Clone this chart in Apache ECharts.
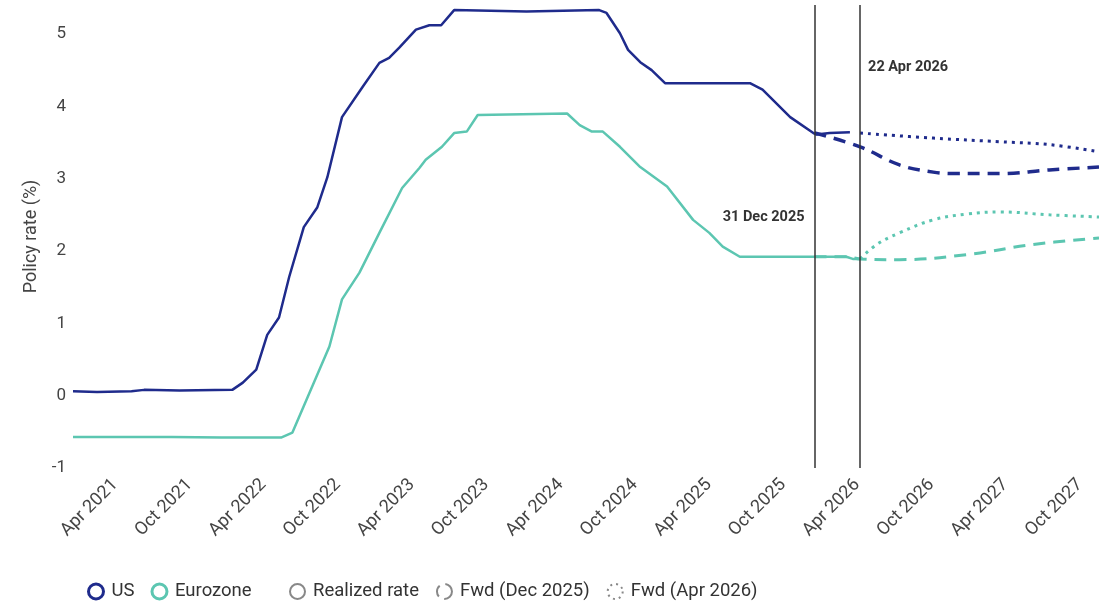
<!DOCTYPE html>
<html>
<head>
<meta charset="utf-8">
<title>Policy rate</title>
<script src="https://cdn.jsdelivr.net/npm/echarts@6/dist/echarts.min.js"></script>
<style>
  html, body { margin: 0; padding: 0; background: #ffffff; }
  #chart { width: 1099px; height: 603px; }
</style>
</head>
<body>
<div id="chart"></div>
<script>
  // realized policy rates
  var usRealized = [
    ['2021-01-01', 0.06], ['2021-03-01', 0.05], ['2021-05-25', 0.06], ['2021-06-25', 0.08],
    ['2021-09-20', 0.07], ['2022-01-28', 0.08], ['2022-02-23', 0.18], ['2022-03-28', 0.36],
    ['2022-04-24', 0.84], ['2022-05-23', 1.08], ['2022-06-17', 1.64], ['2022-07-23', 2.33],
    ['2022-08-25', 2.60], ['2022-09-19', 3.02], ['2022-10-25', 3.85], ['2022-12-15', 4.27],
    ['2023-01-25', 4.60], ['2023-02-18', 4.67], ['2023-03-15', 4.81], ['2023-04-25', 5.06],
    ['2023-05-28', 5.12], ['2023-06-26', 5.12], ['2023-07-28', 5.33], ['2024-01-22', 5.31],
    ['2024-07-19', 5.33], ['2024-08-06', 5.29], ['2024-09-08', 5.01], ['2024-09-28', 4.78],
    ['2024-10-28', 4.61], ['2024-11-25', 4.50], ['2024-12-28', 4.32], ['2025-05-03', 4.32],
    ['2025-07-25', 4.32], ['2025-08-25', 4.23], ['2025-11-01', 3.85], ['2025-12-28', 3.63],
    ['2026-01-05', 3.61], ['2026-02-06', 3.63], ['2026-03-28', 3.64]
  ];
  var ezRealized = [
    ['2021-01-01', -0.57], ['2021-09-01', -0.57], ['2022-01-01', -0.58], ['2022-05-28', -0.58],
    ['2022-06-25', -0.51], ['2022-09-24', 0.68], ['2022-10-25', 1.33], ['2022-12-07', 1.70],
    ['2023-01-25', 2.25], ['2023-03-22', 2.87], ['2023-05-04', 3.15], ['2023-05-19', 3.26],
    ['2023-06-28', 3.44], ['2023-07-28', 3.63], ['2023-08-28', 3.65], ['2023-09-24', 3.88],
    ['2024-05-01', 3.90], ['2024-06-01', 3.74], ['2024-07-01', 3.65], ['2024-07-28', 3.65],
    ['2024-09-08', 3.44], ['2024-10-28', 3.16], ['2025-01-02', 2.89], ['2025-03-07', 2.43],
    ['2025-04-16', 2.25], ['2025-05-19', 2.06], ['2025-06-30', 1.92], ['2026-03-19', 1.92],
    ['2026-04-04', 1.89], ['2026-04-22', 1.89]
  ];

  // market forwards
  var usFwdDec = [
    ['2025-12-31', 3.63], ['2026-04-22', 3.44], ['2026-07-28', 3.19], ['2026-10-19', 3.09],
    ['2026-12-16', 3.07], ['2027-04-01', 3.07], ['2027-08-01', 3.12], ['2027-12-01', 3.16]
  ];
  var usFwdApr = [
    ['2026-04-22', 3.63], ['2026-10-19', 3.56], ['2027-04-01', 3.51], ['2027-08-01', 3.47],
    ['2027-12-01', 3.37]
  ];
  var ezFwdDec = [
    ['2025-12-31', 1.92], ['2026-03-19', 1.92], ['2026-04-22', 1.89], ['2026-07-28', 1.88],
    ['2027-01-10', 1.95], ['2027-06-22', 2.09], ['2027-12-01', 2.18]
  ];
  var ezFwdApr = [
    ['2026-04-22', 1.89], ['2026-06-02', 2.09], ['2026-07-28', 2.25], ['2026-10-19', 2.43],
    ['2027-01-10', 2.51], ['2027-04-01', 2.54], ['2027-08-01', 2.50], ['2027-12-01', 2.47]
  ];

  var tickLabels = ['Apr 2021', 'Oct 2021', 'Apr 2022', 'Oct 2022', 'Apr 2023', 'Oct 2023',
    'Apr 2024', 'Oct 2024', 'Apr 2025', 'Oct 2025', 'Apr 2026', 'Oct 2026', 'Apr 2027', 'Oct 2027'];
  var markerDates = ['2025-12-31', '2026-04-22'];
  var markerLabels = ['31 Dec 2025', '22 Apr 2026'];
  var xRange = ['2021-01-01', '2027-12-01'];

  var US_COLOR = '#1f2b8c';
  var EZ_COLOR = '#5cc6b1';
  var MONTHS = ['Jan', 'Feb', 'Mar', 'Apr', 'May', 'Jun', 'Jul', 'Aug', 'Sep', 'Oct', 'Nov', 'Dec'];

  function t (s) {
    var p = s.split('-');
    return new Date(+p[0], +p[1] - 1, +p[2]).getTime();
  }
  // ticks sit mid-month, like the source chart
  function labelToTime (s) {
    var p = s.split(' ');
    return new Date(+p[1], MONTHS.indexOf(p[0]), 15).getTime();
  }
  function toPoints (arr) {
    return arr.map(function (d) { return [t(d[0]), d[1]]; });
  }
  function legendOnly (name) {
    return { name: name, type: 'line', data: [] };
  }
  function ring (color, width, type) {
    return { color: 'rgba(0,0,0,0)', borderColor: color, borderWidth: width, borderType: type || 'solid' };
  }

  var chart = echarts.init(document.getElementById('chart'));

  var legendText = { fontSize: 18.5, color: '#333', padding: [0, 0, 0, 3] };

  var option = {
    animation: false,
    textStyle: { fontFamily: 'Roboto, "Noto Sans", sans-serif' },
    grid: { left: 73, right: 0, top: 5, bottom: 135 },
    legend: [
      {
        left: 87, top: 582, padding: 0, itemWidth: 15, itemHeight: 15, itemGap: 16,
        textStyle: legendText,
        data: [
          { name: 'US', icon: 'circle', itemStyle: ring(US_COLOR, 3) },
          { name: 'Eurozone', icon: 'circle', itemStyle: ring(EZ_COLOR, 3) }
        ]
      },
      {
        left: 289, top: 582, padding: 0, itemWidth: 15, itemHeight: 15, itemGap: 17,
        textStyle: legendText,
        data: [
          { name: 'Realized rate', icon: 'circle', itemStyle: ring('#888', 2) },
          { name: 'Fwd (Dec 2025)', icon: 'circle', itemStyle: ring('#888', 2, [12, 6]) },
          { name: 'Fwd (Apr 2026)', icon: 'circle', itemStyle: ring('#888', 2, [2, 4]) }
        ]
      }
    ],
    xAxis: {
      type: 'value',
      min: t(xRange[0]),
      max: t(xRange[1]),
      axisLine: { show: false },
      axisTick: { show: false },
      splitLine: { show: false },
      axisLabel: {
        customValues: tickLabels.map(labelToTime),
        rotate: 45,
        margin: 14,
        fontSize: 18,
        color: '#444',
        formatter: function (val) {
          var d = new Date(val);
          return MONTHS[d.getMonth()] + ' ' + d.getFullYear();
        }
      }
    },
    yAxis: {
      type: 'value',
      min: -1,
      max: 5.4,
      interval: 1,
      name: 'Policy rate (%)',
      nameLocation: 'middle',
      nameGap: 33,
      nameTextStyle: { fontSize: 18, color: '#444' },
      axisLine: { show: false },
      axisTick: { show: false },
      splitLine: { show: false },
      axisLabel: { fontSize: 17, color: '#444', margin: 7, showMaxLabel: false, padding: [6, 0, 0, 0] }
    },
    series: [
      {
        name: 'US realized', type: 'line', data: toPoints(usRealized), showSymbol: false,
        lineStyle: { color: US_COLOR, width: 2.5 },
        markLine: {
          silent: true, symbol: 'none',
          lineStyle: { color: '#333', width: 1.5, type: 'solid' },
          label: { show: false },
          data: markerDates.map(function (d) { return { xAxis: t(d) }; })
        },
        markPoint: {
          symbol: 'circle', symbolSize: 0, silent: true,
          label: { show: true, fontSize: 14.5, fontWeight: 'bold', color: '#333' },
          data: [
            { coord: [t(markerDates[0]), 2.47], label: { formatter: markerLabels[0], position: 'left', distance: 10 } },
            { coord: [t(markerDates[1]), 4.54], label: { formatter: markerLabels[1], position: 'right', distance: 8 } }
          ]
        }
      },
      {
        name: 'Eurozone realized', type: 'line', data: toPoints(ezRealized), showSymbol: false,
        lineStyle: { color: EZ_COLOR, width: 2.5 }
      },
      {
        name: 'US fwd Dec', type: 'line', data: toPoints(usFwdDec), showSymbol: false, smooth: 0.4,
        lineStyle: { color: US_COLOR, width: 3.5, type: [12, 8] }
      },
      {
        name: 'US fwd Apr', type: 'line', data: toPoints(usFwdApr), showSymbol: false, smooth: 0.4,
        lineStyle: { color: US_COLOR, width: 3, type: [3, 5] }
      },
      {
        name: 'Eurozone fwd Dec', type: 'line', data: toPoints(ezFwdDec), showSymbol: false, smooth: 0.4,
        lineStyle: { color: EZ_COLOR, width: 3, type: [12, 8] }
      },
      {
        name: 'Eurozone fwd Apr', type: 'line', data: toPoints(ezFwdApr), showSymbol: false, smooth: 0.4,
        lineStyle: { color: EZ_COLOR, width: 3, type: [3, 5] }
      },
      legendOnly('US'),
      legendOnly('Eurozone'),
      legendOnly('Realized rate'),
      legendOnly('Fwd (Dec 2025)'),
      legendOnly('Fwd (Apr 2026)')
    ]
  };

  option && chart.setOption(option);
</script>
</body>
</html>
